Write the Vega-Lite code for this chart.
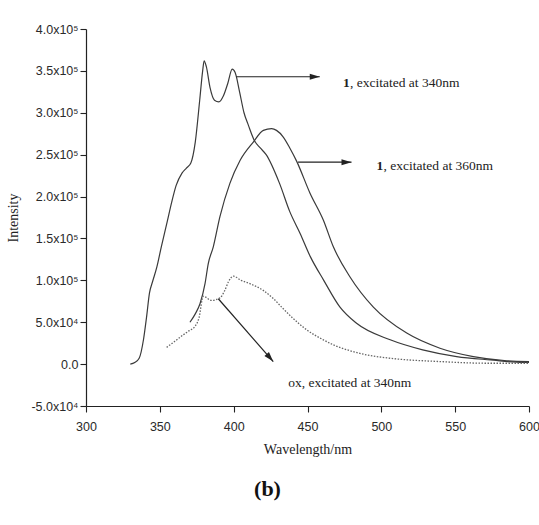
{
  "$schema": "https://vega.github.io/schema/vega-lite/v6.json",
  "autosize": {"type": "none"},
  "padding": {"left": 86, "top": 29, "right": 10, "bottom": 119},
  "width": 443,
  "height": 377,
  "background": "white",
  "title": {"text": "(b)", "orient": "bottom", "font": "Liberation Serif", "fontSize": 22, "fontWeight": "bold", "color": "#111", "dx": -40, "offset": 22},
  "config": {
    "view": {"stroke": null},
    "axis": {"grid": false, "domainColor": "#222", "domainWidth": 1.2, "tickColor": "#222", "tickWidth": 1.1,
      "labelFont": "Liberation Sans", "labelFontSize": 12.5, "labelColor": "#2a2a2a",
      "titleFont": "Liberation Serif", "titleFontSize": 14, "titleFontWeight": "normal", "titleColor": "#222"}
  },
  "datasets": {
    "spectra": [
      {"series": "340", "wl": 330, "I": 0},
      {"series": "340", "wl": 333, "I": 2000},
      {"series": "340", "wl": 336, "I": 7000},
      {"series": "340", "wl": 339, "I": 30000},
      {"series": "340", "wl": 341, "I": 56000},
      {"series": "340", "wl": 343, "I": 85000},
      {"series": "340", "wl": 345, "I": 98000},
      {"series": "340", "wl": 348, "I": 116000},
      {"series": "340", "wl": 351, "I": 140000},
      {"series": "340", "wl": 355, "I": 170000},
      {"series": "340", "wl": 358, "I": 193000},
      {"series": "340", "wl": 361, "I": 213000},
      {"series": "340", "wl": 365, "I": 228000},
      {"series": "340", "wl": 368, "I": 234000},
      {"series": "340", "wl": 371, "I": 240000},
      {"series": "340", "wl": 374, "I": 265000},
      {"series": "340", "wl": 377, "I": 315000},
      {"series": "340", "wl": 379, "I": 350000},
      {"series": "340", "wl": 380, "I": 362000},
      {"series": "340", "wl": 381.5, "I": 355000},
      {"series": "340", "wl": 384, "I": 330000},
      {"series": "340", "wl": 387, "I": 315000},
      {"series": "340", "wl": 390, "I": 313000},
      {"series": "340", "wl": 393, "I": 320000},
      {"series": "340", "wl": 396, "I": 335000},
      {"series": "340", "wl": 399, "I": 352000},
      {"series": "340", "wl": 401, "I": 348000},
      {"series": "340", "wl": 404, "I": 325000},
      {"series": "340", "wl": 407, "I": 300000},
      {"series": "340", "wl": 410, "I": 285000},
      {"series": "340", "wl": 414, "I": 267000},
      {"series": "340", "wl": 418, "I": 258000},
      {"series": "340", "wl": 422, "I": 250000},
      {"series": "340", "wl": 431, "I": 216000},
      {"series": "340", "wl": 438, "I": 182000},
      {"series": "340", "wl": 445, "I": 156000},
      {"series": "340", "wl": 452, "I": 128000},
      {"series": "340", "wl": 461, "I": 100000},
      {"series": "340", "wl": 472, "I": 68000},
      {"series": "340", "wl": 483, "I": 49000},
      {"series": "340", "wl": 506, "I": 29000},
      {"series": "340", "wl": 528, "I": 17000},
      {"series": "340", "wl": 551, "I": 9000},
      {"series": "340", "wl": 574, "I": 5000},
      {"series": "340", "wl": 596, "I": 2000},
      {"series": "340", "wl": 600, "I": 2000},
      {"series": "360", "wl": 370.4, "I": 50000},
      {"series": "360", "wl": 374, "I": 60000},
      {"series": "360", "wl": 377.2, "I": 72000},
      {"series": "360", "wl": 380.6, "I": 96000},
      {"series": "360", "wl": 382.8, "I": 120000},
      {"series": "360", "wl": 386.2, "I": 140000},
      {"series": "360", "wl": 390.7, "I": 176000},
      {"series": "360", "wl": 397.5, "I": 216000},
      {"series": "360", "wl": 404.3, "I": 243000},
      {"series": "360", "wl": 413.3, "I": 265000},
      {"series": "360", "wl": 420.1, "I": 279000},
      {"series": "360", "wl": 425.7, "I": 281000},
      {"series": "360", "wl": 429, "I": 279000},
      {"series": "360", "wl": 433.6, "I": 271000},
      {"series": "360", "wl": 438, "I": 258000},
      {"series": "360", "wl": 442.7, "I": 242000},
      {"series": "360", "wl": 451.7, "I": 204000},
      {"series": "360", "wl": 460.7, "I": 172000},
      {"series": "360", "wl": 467.5, "I": 140000},
      {"series": "360", "wl": 478.8, "I": 104000},
      {"series": "360", "wl": 494.6, "I": 68000},
      {"series": "360", "wl": 517.2, "I": 37000},
      {"series": "360", "wl": 539.7, "I": 19000},
      {"series": "360", "wl": 562.3, "I": 9000},
      {"series": "360", "wl": 584.9, "I": 4000},
      {"series": "360", "wl": 600, "I": 3000},
      {"series": "ox", "wl": 354.6, "I": 20000},
      {"series": "ox", "wl": 360, "I": 27000},
      {"series": "ox", "wl": 365.9, "I": 35000},
      {"series": "ox", "wl": 370, "I": 40000},
      {"series": "ox", "wl": 373.8, "I": 45000},
      {"series": "ox", "wl": 376.5, "I": 55000},
      {"series": "ox", "wl": 379.4, "I": 81000},
      {"series": "ox", "wl": 385, "I": 76000},
      {"series": "ox", "wl": 390.7, "I": 79000},
      {"series": "ox", "wl": 394, "I": 88000},
      {"series": "ox", "wl": 396.4, "I": 98000},
      {"series": "ox", "wl": 399.8, "I": 105000},
      {"series": "ox", "wl": 405, "I": 100000},
      {"series": "ox", "wl": 411, "I": 96000},
      {"series": "ox", "wl": 420, "I": 88000},
      {"series": "ox", "wl": 427, "I": 78000},
      {"series": "ox", "wl": 433.6, "I": 66000},
      {"series": "ox", "wl": 440, "I": 55000},
      {"series": "ox", "wl": 449.4, "I": 41000},
      {"series": "ox", "wl": 460.7, "I": 29000},
      {"series": "ox", "wl": 467.5, "I": 23000},
      {"series": "ox", "wl": 478.8, "I": 16000},
      {"series": "ox", "wl": 490, "I": 11000},
      {"series": "ox", "wl": 506, "I": 7000},
      {"series": "ox", "wl": 540, "I": 3000},
      {"series": "ox", "wl": 574, "I": 1000},
      {"series": "ox", "wl": 600, "I": 1000}
    ],
    "arrows": [
      {"id": "a340", "kind": "h", "x1": 401.9, "y1": 343000, "x2": 458.3, "y2": 343000},
      {"id": "a360", "kind": "h", "x1": 443.6, "y1": 241000, "x2": 479.8, "y2": 241000},
      {"id": "aox", "kind": "d", "x1": 389.6, "y1": 78000, "x2": 426.8, "y2": 3000}
    ],
    "labels": [
      {"num": "1", "text": ", excitated at 340nm", "x": 474, "y": 335000},
      {"num": "1", "text": ", excitated at 360nm", "x": 496.8, "y": 237000},
      {"num": "", "text": "ox, excitated at 340nm", "x": 437, "y": -23000}
    ]
  },
  "layer": [
    {
      "data": {"name": "spectra"},
      "transform": [{"filter": "datum.series !== 'ox'"}],
      "mark": {"type": "line", "color": "#3a3a3a", "strokeWidth": 1.2, "interpolate": "monotone"},
      "encoding": {
        "x": {"field": "wl", "type": "quantitative", "scale": {"domain": [300, 600], "nice": false, "zero": false},
          "axis": {"title": "Wavelength/nm", "values": [300,325,350,375,400,425,450,475,500,525,550,575,600],
            "labelExpr": "datum.value % 50 === 0 ? datum.label : ''",
            "tickSize": {"condition": {"test": "datum.value % 50 === 0", "value": 6}, "value": 3},
            "labelPadding": 8, "titlePadding": 10, "labelFlush": false}},
        "y": {"field": "I", "type": "quantitative", "scale": {"domain": [-50000, 400000], "nice": false, "zero": false},
          "axis": {"title": "Intensity", "values": [-50000,-25000,0,25000,50000,75000,100000,125000,150000,175000,200000,225000,250000,275000,300000,325000,350000,375000,400000],
            "labelExpr": "datum.value % 50000 !== 0 ? '' : (datum.value === 0 ? '0.0' : (abs(datum.value) >= 100000 ? format(datum.value/100000,'.1f') + 'x10⁵' : (datum.value < 0 ? '-' : '') + format(abs(datum.value)/10000,'.1f') + 'x10⁴'))",
            "tickSize": {"condition": {"test": "datum.value % 50000 === 0", "value": 6}, "value": 3},
            "labelPadding": 2, "titlePadding": 10, "labelFlush": false}},
        "detail": {"field": "series"}
      }
    },
    {
      "data": {"name": "spectra"},
      "transform": [{"filter": "datum.series === 'ox'"}],
      "mark": {"type": "line", "color": "#666", "strokeWidth": 1.3, "strokeDash": [1.5, 1.5], "interpolate": "monotone"},
      "encoding": {
        "x": {"field": "wl", "type": "quantitative"},
        "y": {"field": "I", "type": "quantitative"}
      }
    },
    {
      "data": {"name": "arrows"},
      "mark": {"type": "rule", "color": "#222", "strokeWidth": 1.2},
      "encoding": {
        "x": {"field": "x1", "type": "quantitative"},
        "x2": {"field": "x2"},
        "y": {"field": "y1", "type": "quantitative"},
        "y2": {"field": "y2"}
      }
    },
    {
      "data": {"name": "arrows"},
      "transform": [{"filter": "datum.kind === 'h'"}],
      "mark": {"type": "point", "shape": "M-1,-0.3L0,0L-1,0.3Z", "size": 400, "filled": true, "color": "#222", "opacity": 1},
      "encoding": {
        "x": {"field": "x2", "type": "quantitative"},
        "y": {"field": "y2", "type": "quantitative"}
      }
    },
    {
      "data": {"name": "arrows"},
      "transform": [{"filter": "datum.kind === 'd'"}],
      "mark": {"type": "point", "shape": "M-1,-0.3L0,0L-1,0.3Z", "size": 400, "filled": true, "color": "#222", "opacity": 1, "angle": 49},
      "encoding": {
        "x": {"field": "x2", "type": "quantitative"},
        "y": {"field": "y2", "type": "quantitative"}
      }
    },
    {
      "data": {"name": "labels"},
      "mark": {"type": "text", "align": "left", "baseline": "middle", "font": "Liberation Serif", "fontSize": 13.5, "fontWeight": "bold", "color": "#222"},
      "encoding": {
        "x": {"field": "x", "type": "quantitative"},
        "y": {"field": "y", "type": "quantitative"},
        "text": {"field": "num"}
      }
    },
    {
      "data": {"name": "labels"},
      "transform": [{"filter": "datum.num !== ''"}],
      "mark": {"type": "text", "align": "left", "baseline": "middle", "font": "Liberation Serif", "fontSize": 13.5, "color": "#222", "dx": 7},
      "encoding": {
        "x": {"field": "x", "type": "quantitative"},
        "y": {"field": "y", "type": "quantitative"},
        "text": {"field": "text"}
      }
    },
    {
      "data": {"name": "labels"},
      "transform": [{"filter": "datum.num === ''"}],
      "mark": {"type": "text", "align": "left", "baseline": "middle", "font": "Liberation Serif", "fontSize": 13.5, "color": "#222"},
      "encoding": {
        "x": {"field": "x", "type": "quantitative"},
        "y": {"field": "y", "type": "quantitative"},
        "text": {"field": "text"}
      }
    }
  ]
}
